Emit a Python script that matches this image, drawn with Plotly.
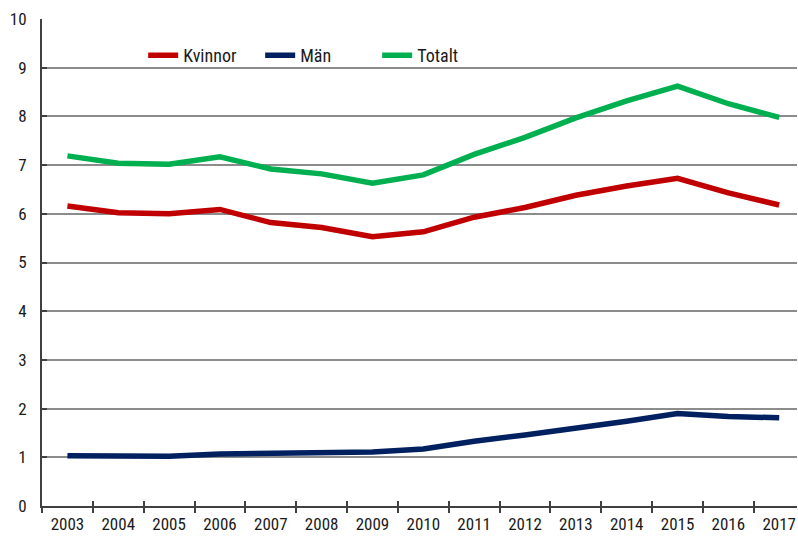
import plotly.graph_objects as go

years = list(range(2003, 2018))
year_labels = [str(y) for y in years]
kvinnor = [6.16, 6.02, 6.00, 6.09, 5.82, 5.72, 5.53, 5.63, 5.93, 6.13, 6.38, 6.57, 6.73, 6.43, 6.18]
man = [1.03, 1.02, 1.02, 1.07, 1.08, 1.10, 1.11, 1.17, 1.33, 1.46, 1.59, 1.74, 1.90, 1.84, 1.81]
totalt = [7.19, 7.04, 7.02, 7.17, 6.92, 6.82, 6.63, 6.80, 7.22, 7.57, 7.97, 8.32, 8.62, 8.26, 7.98]
y_ticks = list(range(0, 11))

series = [("Kvinnor", kvinnor, "#C00000"), ("Män", man, "#002060"), ("Totalt", totalt, "#00B050")]

FONT = "Liberation Sans Narrow, Roboto Condensed, Arial Narrow, sans-serif"

fig = go.Figure()
for name, vals, col in series:
    fig.add_trace(go.Scatter(x=years, y=vals, name=name, mode="lines",
                             line=dict(color=col, width=5.5), hoverinfo="skip"))
# helper trace for overlay axes (gridlines / inner ticks)
fig.add_trace(go.Scatter(x=years, y=kvinnor, xaxis="x2", yaxis="y2", mode="lines",
                         line=dict(width=0), opacity=0, showlegend=False, hoverinfo="skip"))

half = [y - 0.5 for y in years]
xr = [2002.5, 2017.35]
fig.update_layout(
    width=798, height=537,
    margin=dict(l=42, r=1, t=19, b=31),
    paper_bgcolor="white", plot_bgcolor="white",
    font=dict(family=FONT, size=17, color="#1a1a1a"),
    showlegend=True,
    legend=dict(orientation="h", x=0.134, xanchor="left", y=0.925, yanchor="middle",
                bgcolor="rgba(0,0,0,0)", font=dict(size=18), tracegroupgap=0,
                entrywidth=72),
    xaxis=dict(range=xr, tickmode="array", tickvals=years, ticktext=year_labels,
               ticks="", showgrid=False, zeroline=False, showline=True, automargin=False,
               linecolor="#404040", linewidth=2, ticklabelstandoff=2,
               minor=dict(tickmode="array", tickvals=half, ticks="outside", ticklen=5,
                          tickwidth=1.5, tickcolor="#404040", showgrid=False)),
    xaxis2=dict(range=xr, overlaying="x", tickmode="array", tickvals=half,
                ticks="inside", ticklen=5, tickwidth=1.5, tickcolor="#404040", automargin=False,
                showticklabels=False, showgrid=False, zeroline=False, showline=False),
    yaxis=dict(range=[0, 10], tickmode="array", tickvals=y_ticks, ticks="inside",
               ticklen=5, tickwidth=2, tickcolor="#404040", showgrid=False, automargin=False,
               zeroline=False, showline=True, linecolor="#404040", linewidth=2,
               ticklabelstandoff=10),
    yaxis2=dict(range=[0, 10], overlaying="y", tickmode="array", tickvals=y_ticks[1:-1],
                showgrid=True, gridcolor="#8c8c8c", gridwidth=2, ticks="", automargin=False,
                showticklabels=False, zeroline=False, showline=False),
)
fig.write_html("out.html", config={"displayModeBar": False},
               post_script="document.body.style.margin='0px';")
